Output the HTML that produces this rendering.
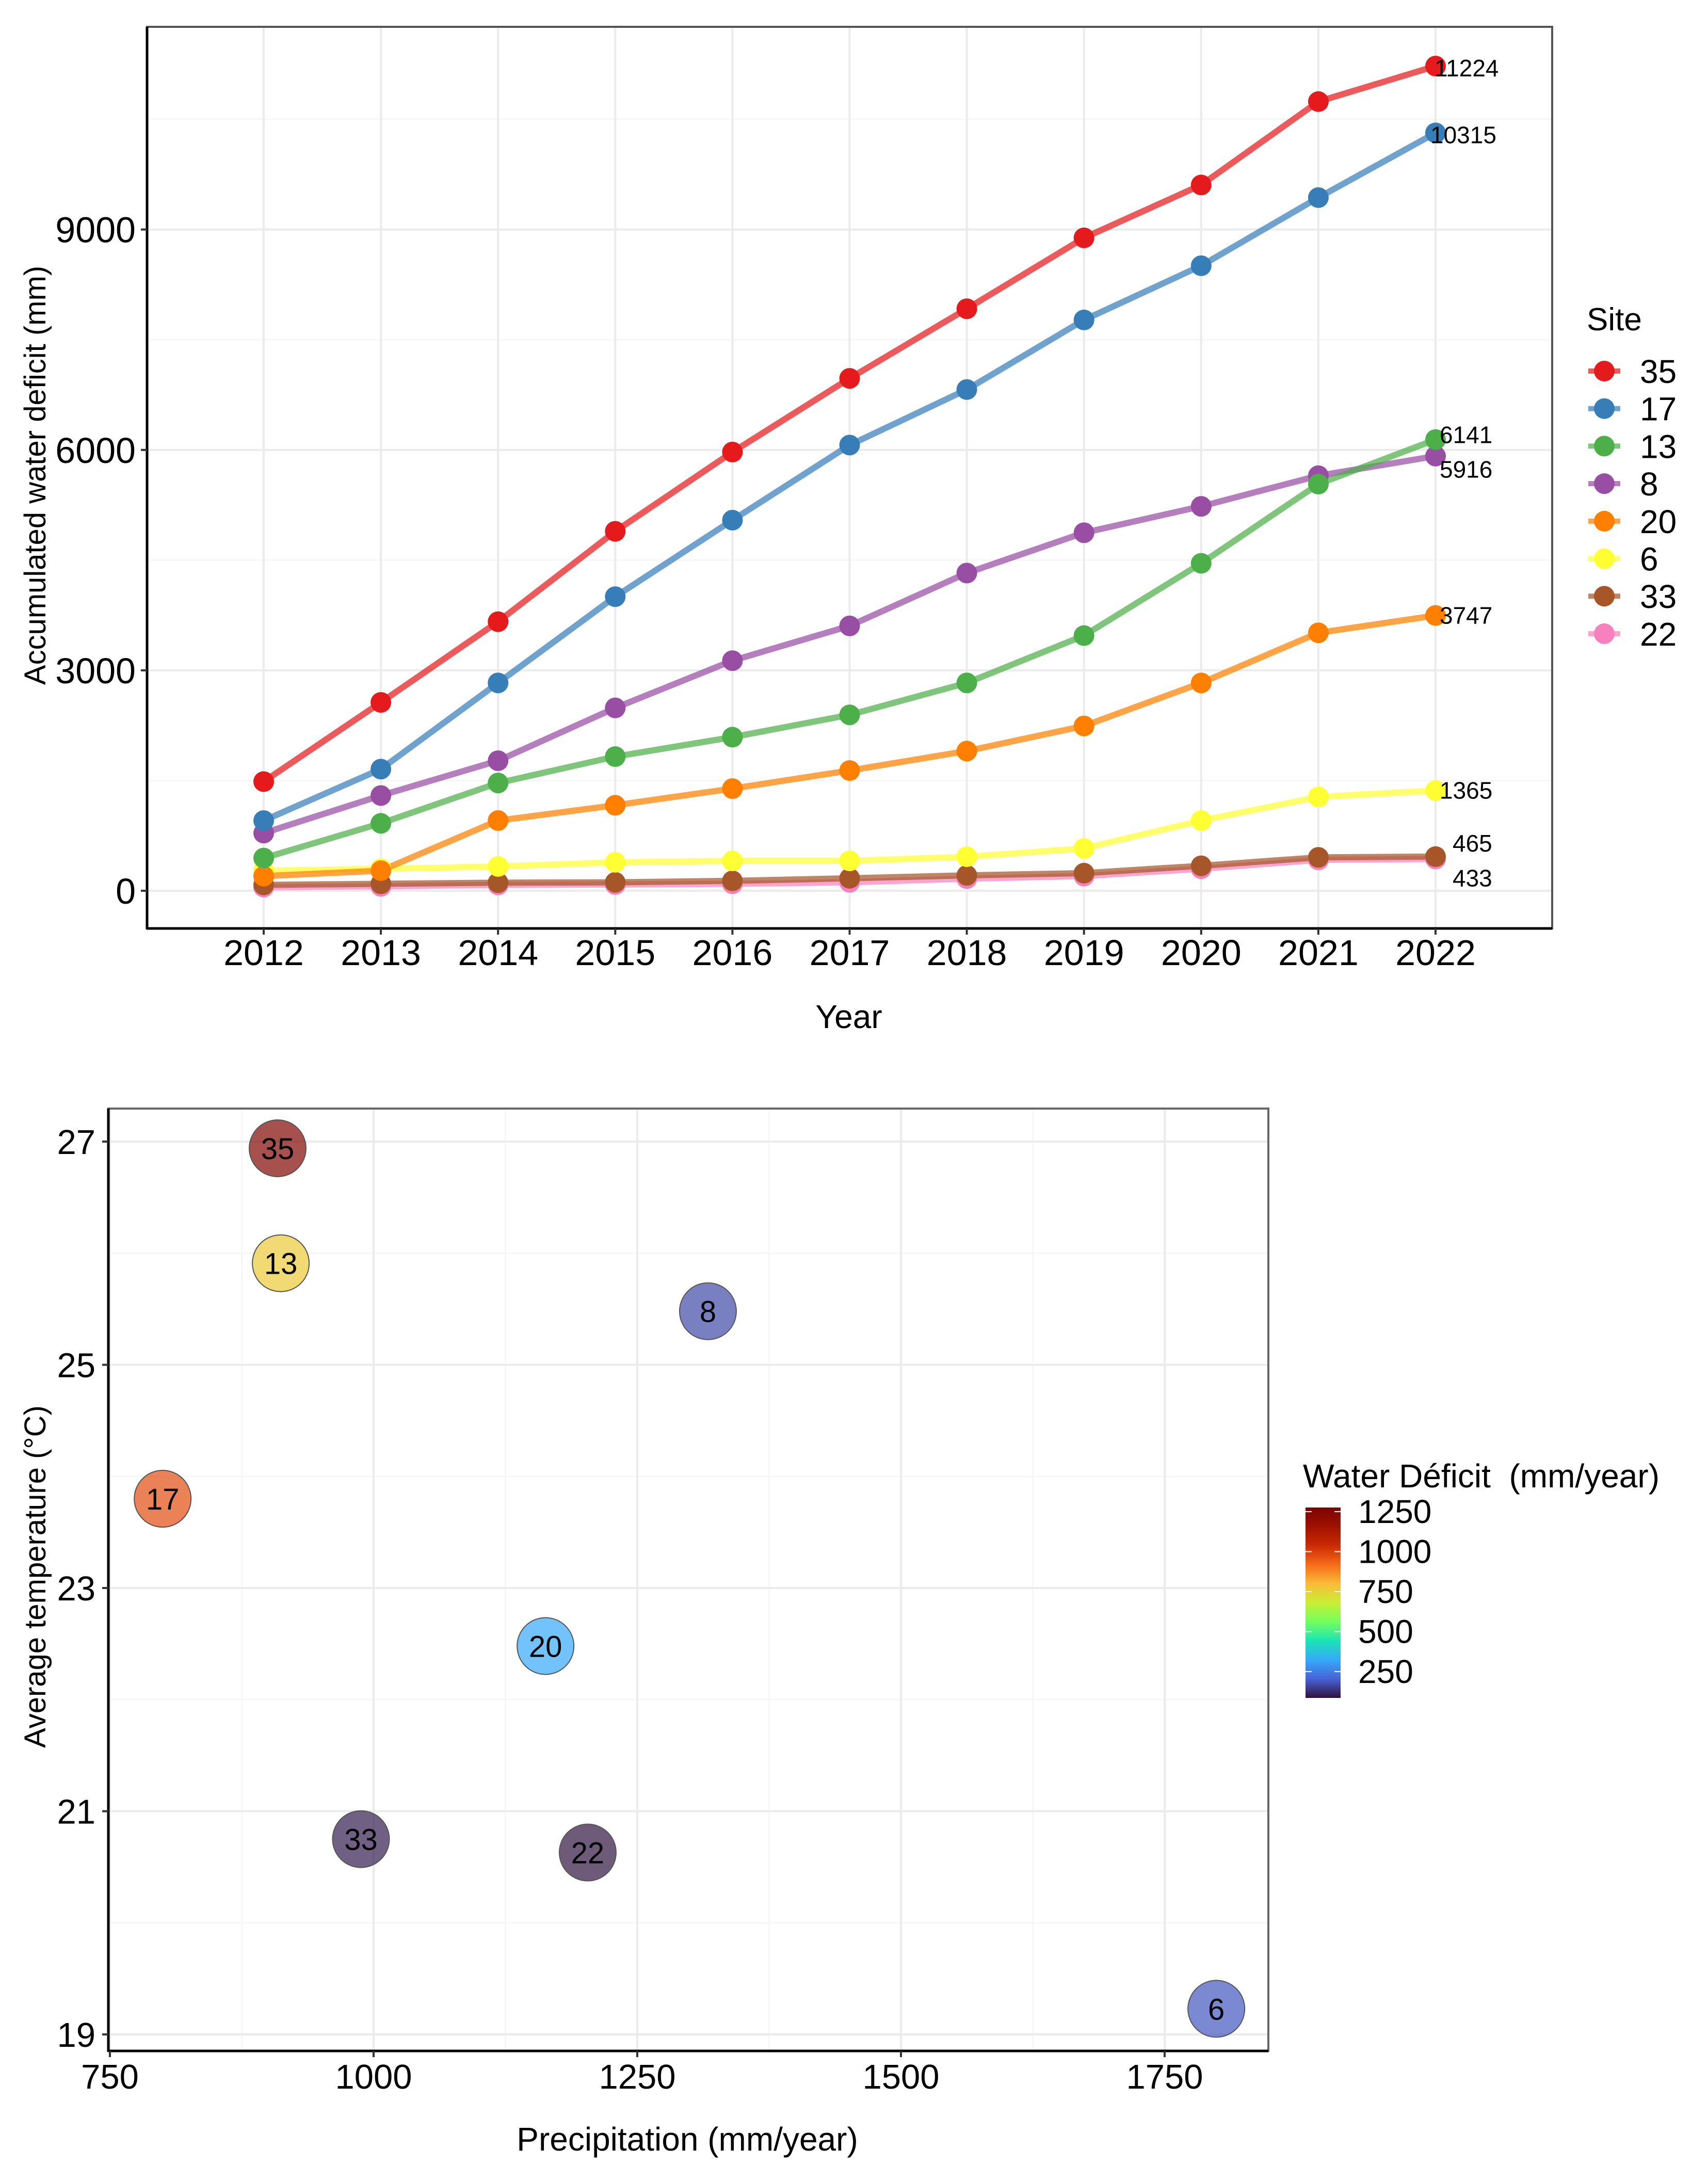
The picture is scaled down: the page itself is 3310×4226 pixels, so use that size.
<!DOCTYPE html>
<html><head><meta charset="utf-8">
<style>
html,body{margin:0;padding:0;background:#fff;}
svg{display:block;font-family:"Liberation Sans",Arial,sans-serif;}
</style></head>
<body>
<svg id="fig" width="3310" height="4226" viewBox="0 0 3310 4226" xmlns="http://www.w3.org/2000/svg">
<defs>
<linearGradient id="turbo" x1="0" y1="1" x2="0" y2="0">
<stop offset="0" stop-color="#30123b"/><stop offset="0.1" stop-color="#4662d7"/><stop offset="0.2" stop-color="#36aaf9"/><stop offset="0.3" stop-color="#1ae4b6"/><stop offset="0.4" stop-color="#72fe5e"/><stop offset="0.5" stop-color="#c8ef34"/><stop offset="0.6" stop-color="#faba39"/><stop offset="0.7" stop-color="#f66b19"/><stop offset="0.8" stop-color="#cb2a04"/><stop offset="0.9" stop-color="#a01101"/><stop offset="1" stop-color="#7a0403"/>
</linearGradient>
</defs>
<g id="topChart"></g>
<g id="botChart"></g>
</svg>
<script>
// ---------- Top chart data ----------
const years = [2012,2013,2014,2015,2016,2017,2018,2019,2020,2021,2022];
const siteNames = ["35","17","13","8","20","6","33","22"];
const s35 = [1486,2564,3662,4892,5971,6974,7921,8886,9606,10741,11224];
const s17 = [955,1656,2829,4003,5044,6066,6822,7769,8507,9434,10315];
const s13 = [445,918,1467,1826,2091,2394,2829,3473,4457,5535,6141];
const s8  = [785,1296,1770,2489,3132,3605,4324,4873,5232,5649,5916];
const s20 = [199,274,956,1164,1391,1637,1902,2243,2829,3511,3747];
const s6  = [274,300,331,388,407,407,464,577,956,1278,1365];
const s33 = [80,95,110,115,135,170,210,240,340,455,465];
const s22 = [50,60,80,85,95,115,165,200,300,420,433];
const yTicks = [0,3000,6000,9000];
const yMinor = [1500,4500,7500,10500];

// ---------- Bottom chart data ----------
const bubbleSites = ["35","13","8","17","20","33","22","6"];
const precip = [909,912,1317,800,1163,988,1203,1799];
const temp = [26.94,25.91,25.48,23.80,22.48,20.75,20.63,19.23];
const deficit = [1250,764,168,978,323,100,90,186];
const pTicks = [750,1000,1250,1500,1750];
const pMinor = [875,1125,1375,1625];
const tTicks = [19,21,23,25,27];
const tMinor = [20,22,24,26];
const cbTicks = [250,500,750,1000,1250];

const NS = "http://www.w3.org/2000/svg";
function mk(parent, tag, attrs, text){
  const el = document.createElementNS(NS, tag);
  for (const k in attrs) el.setAttribute(k, attrs[k]);
  if (text !== undefined) el.textContent = text;
  parent.appendChild(el);
  return el;
}
const topG = document.getElementById('topChart');
const botG = document.getElementById('botChart');

// ===== TOP CHART =====
const P = {l:285, r:3008, t:52, b:1799};
const xY = y => 511 + (y - 2012) * (2782 - 511) / 10;
const yV = v => 1726 - v * 0.14237;
let e;
e = mk(topG,'rect',{x:P.l,y:P.t,width:P.r-P.l,height:P.b-P.t,fill:'#fff'});


yMinor.forEach(v=>{ e=mk(topG,'line',{x1:P.l,x2:P.r,y1:yV(v),y2:yV(v),stroke:'#f3f3f3','stroke-width':2});
  
  });
yTicks.forEach(v=>{ e=mk(topG,'line',{x1:P.l,x2:P.r,y1:yV(v),y2:yV(v),stroke:'#ebebeb','stroke-width':4});
  
  });
years.forEach(y=>{ e=mk(topG,'line',{x1:xY(y),x2:xY(y),y1:P.t,y2:P.b,stroke:'#ebebeb','stroke-width':4});
  
  });
e=mk(topG,'rect',{x:P.l,y:P.t,width:P.r-P.l,height:P.b-P.t,fill:'none',stroke:'#555','stroke-width':4});


e=mk(topG,'line',{x1:P.l,x2:P.l,y1:P.t,y2:P.b+2,stroke:'#000','stroke-width':5});


e=mk(topG,'line',{x1:P.l,x2:P.r,y1:P.b,y2:P.b,stroke:'#000','stroke-width':5});


yTicks.forEach(v=>{
  e=mk(topG,'line',{x1:P.l-12,x2:P.l,y1:yV(v),y2:yV(v),stroke:'#333','stroke-width':4});
  
  
  e=mk(topG,'text',{x:P.l-22,y:yV(v)+25,'text-anchor':'end','font-size':70,fill:'#000'},String(v));
  
  
});
years.forEach(y=>{
  e=mk(topG,'line',{x1:xY(y),x2:xY(y),y1:P.b,y2:P.b+12,stroke:'#333','stroke-width':4});
  
  
  e=mk(topG,'text',{x:xY(y),y:1870,'text-anchor':'middle','font-size':70,fill:'#000'},String(y));
  
  
});
e=mk(topG,'text',{x:1645,y:1992,'text-anchor':'middle','font-size':64,fill:'#000'},'Year');


e=mk(topG,'text',{x:0,y:0,'text-anchor':'middle','font-size':58,fill:'#000',transform:'translate(88,921) rotate(-90)'},'Accumulated water deficit (mm)');



const series = [s35,s17,s13,s8,s20,s6,s33,s22];
const colors = ['#e41a1c','#377eb8','#4daf4a','#984ea3','#ff7f00','#ffff33','#a65628','#f781bf'];
const order = [7,6,5,4,3,2,1,0];
order.forEach(i=>{
  const pts = series[i].map((v,j)=>xY(years[j])+','+yV(v)).join(' ');
  e=mk(topG,'polyline',{points:pts,fill:'none',stroke:colors[i],'stroke-opacity':0.72,'stroke-width':12,'stroke-linejoin':'round'});
  
  
});
order.forEach(i=>{
  series[i].forEach((v,j)=>{
    e=mk(topG,'circle',{cx:xY(years[j]),cy:yV(v),r:20,fill:colors[i]});
    
    
  });
});
const labelNudgeY = [4,4,-9,26,0,0,-26,37];
const labelNudgeX = [-2,-10,8,8,8,8,33,33];
series.forEach((s,i)=>{
  const v = s[s.length-1];
  e=mk(topG,'text',{x:xY(2022)+labelNudgeX[i],y:yV(v)+labelNudgeY[i]+16,'font-size':46,fill:'#000'},String(v));
  
  
});
e=mk(topG,'text',{x:3075,y:640,'font-size':62,fill:'#000'},'Site');


siteNames.forEach((n,i)=>{
  const cy = 719 + i*72.7;
  const g = mk(topG,'g',{});
  
  
  mk(g,'line',{x1:3078,x2:3140,y1:cy,y2:cy,stroke:colors[i],'stroke-opacity':0.72,'stroke-width':10});
  mk(g,'circle',{cx:3109,cy:cy,r:20,fill:colors[i]});
  mk(g,'text',{x:3178,y:cy+23,'font-size':64,fill:'#000'},n);
});

// ===== BOTTOM CHART =====
const Q = {l:210, r:2458, t:2148, b:3974};
const xP = p => 213 + (p - 750) * 511/250;
const yT = t => 3942 - (t - 19) * 216.25;
e=mk(botG,'rect',{x:Q.l,y:Q.t,width:Q.r-Q.l,height:Q.b-Q.t,fill:'#fff'});


pMinor.forEach(v=>{ e=mk(botG,'line',{x1:xP(v),x2:xP(v),y1:Q.t,y2:Q.b,stroke:'#f3f3f3','stroke-width':2});
  
  });
tMinor.forEach(v=>{ e=mk(botG,'line',{x1:Q.l,x2:Q.r,y1:yT(v),y2:yT(v),stroke:'#f3f3f3','stroke-width':2});
  
  });
pTicks.forEach(v=>{ e=mk(botG,'line',{x1:xP(v),x2:xP(v),y1:Q.t,y2:Q.b,stroke:'#ebebeb','stroke-width':4});
  
  });
tTicks.forEach(v=>{ e=mk(botG,'line',{x1:Q.l,x2:Q.r,y1:yT(v),y2:yT(v),stroke:'#ebebeb','stroke-width':4});
  
  });
e=mk(botG,'rect',{x:Q.l,y:Q.t,width:Q.r-Q.l,height:Q.b-Q.t,fill:'none',stroke:'#666','stroke-width':4});


e=mk(botG,'line',{x1:Q.l,x2:Q.l,y1:Q.t,y2:Q.b+2,stroke:'#000','stroke-width':5});


e=mk(botG,'line',{x1:Q.l,x2:Q.r,y1:Q.b,y2:Q.b,stroke:'#000','stroke-width':5});


tTicks.forEach(v=>{
  e=mk(botG,'line',{x1:Q.l-12,x2:Q.l,y1:yT(v),y2:yT(v),stroke:'#333','stroke-width':4});
  
  
  e=mk(botG,'text',{x:185,y:yT(v)+24,'text-anchor':'end','font-size':67,fill:'#000'},String(v));
  
  
});
pTicks.forEach(v=>{
  e=mk(botG,'line',{x1:xP(v),x2:xP(v),y1:Q.b,y2:Q.b+12,stroke:'#333','stroke-width':4});
  
  
  e=mk(botG,'text',{x:xP(v),y:4047,'text-anchor':'middle','font-size':67,fill:'#000'},String(v));
  
  
});
e=mk(botG,'text',{x:1332,y:4167,'text-anchor':'middle','font-size':64,fill:'#000'},'Precipitation (mm/year)');


e=mk(botG,'text',{x:0,y:0,'text-anchor':'middle','font-size':58,fill:'#000',transform:'translate(88,3055) rotate(-90)'},'Average temperature (°C)');



const turboStops = [[48,18,59],[70,98,215],[54,170,249],[26,228,182],[114,254,94],[200,239,52],[250,186,57],[246,107,25],[203,42,4],[160,17,1],[122,4,3]];
const cbMin = 85, cbMax = 1276;
function turbo(v){
  const t = Math.max(0, Math.min(1, (v - cbMin)/(cbMax - cbMin))) * 10;
  const i = Math.min(9, Math.floor(t)), f = t - i;
  const a = turboStops[i], b = turboStops[i+1];
  return 'rgb('+a.map((c,k)=>Math.round(c+(b[k]-c)*f)).join(',')+')';
}
bubbleSites.forEach((n,i)=>{
  const g = mk(botG,'g',{});
  
  
  mk(g,'circle',{cx:xP(precip[i]),cy:yT(temp[i]),r:55,fill:turbo(deficit[i]),'fill-opacity':0.7,stroke:'#555','stroke-width':2});
  mk(g,'text',{x:xP(precip[i]),y:yT(temp[i])+21,'text-anchor':'middle','font-size':58,fill:'#000'},n);
});
const cb = {x:2530, w:68, top:2921, bot:3290};
const yC = v => cb.bot - (v - cbMin)/(cbMax - cbMin) * (cb.bot - cb.top);
e=mk(botG,'text',{x:2525,y:2882,'font-size':64,fill:'#000',style:'white-space:pre'},'Water Déficit  (mm/year)');


e=mk(botG,'rect',{x:cb.x,y:cb.top,width:cb.w,height:cb.bot-cb.top,fill:'url(#turbo)'});


cbTicks.forEach(v=>{
  e=mk(botG,'line',{x1:cb.x,x2:cb.x+12,y1:yC(v),y2:yC(v),stroke:'#fff','stroke-width':2});
  
  
  e=mk(botG,'line',{x1:cb.x+cb.w-12,x2:cb.x+cb.w,y1:yC(v),y2:yC(v),stroke:'#fff','stroke-width':2});
  
  
  e=mk(botG,'text',{x:2632,y:yC(v)+22,'font-size':64,fill:'#000'},String(v));
  
  
});
</script>
</body></html>
